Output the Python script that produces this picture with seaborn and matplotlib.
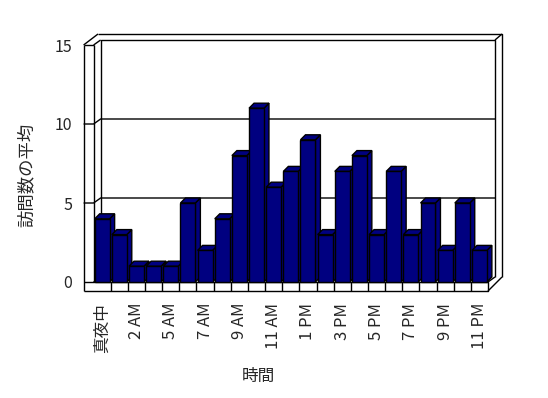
import matplotlib
matplotlib.use("Agg")
import matplotlib.pyplot as plt
from matplotlib.patches import Polygon
import seaborn as sns

# === Datos: visitas promedio por hora ===
horas = ["真夜中", "1 AM", "2 AM", "3 AM", "5 AM", "6 AM", "7 AM", "8 AM",
         "9 AM", "10 AM", "11 AM", "12 PM", "1 PM", "2 PM", "3 PM", "4 PM",
         "5 PM", "6 PM", "7 PM", "8 PM", "9 PM", "10 PM", "11 PM"]
visitas = [4, 3, 1, 1, 1, 5, 2, 4, 8, 11, 6, 7, 9, 3, 7, 8, 3, 7, 3, 5, 2, 5, 2]
y_ticks = [0, 5, 10, 15]

color_barra = "#000080"

sns.set_style("white")
plt.rcParams["font.family"] = ["Noto Sans CJK JP", "DejaVu Sans"]

W_PX, H_PX = 548, 398
fig = plt.figure(figsize=(W_PX / 100, H_PX / 100), dpi=100)
left, right, top, bottom = 93.6, 488.0, 45.0, 282.0
ax = fig.add_axes([left / W_PX, 1 - bottom / H_PX,
                   (right - left) / W_PX, (bottom - top) / H_PX])

n = len(horas)
X0, X1 = -0.5, n - 0.5
Y0, Y1 = 0, 15
ux = (right - left) / n      # px por categoría
uy = (bottom - top) / Y1     # px por unidad


def px(xc, yv, ox=0, oy=0):
    return (xc + ox / ux, yv + oy / uy)


def linea(*pts):
    xs = [p[0] for p in pts]
    ys = [p[1] for p in pts]
    ax.plot(xs, ys, color="black", lw=1, clip_on=False, zorder=1,
            solid_capstyle="butt")


# === Barras ===
sns.barplot(x=horas, y=visitas, order=horas, color=color_barra,
            saturation=1, edgecolor="black", linewidth=1, width=0.87, ax=ax)

bx, by = 5 / ux, 5 / uy
for i, p in enumerate(list(ax.patches)):
    x0, w, h = p.get_x(), p.get_width(), p.get_height()
    base = 3 + i * 3
    lado = Polygon([(x0 + w, 0), (x0 + w + bx, by), (x0 + w + bx, h + by), (x0 + w, h)],
                   closed=True, facecolor=color_barra, edgecolor="black", lw=1,
                   zorder=base, clip_on=False)
    tapa = Polygon([(x0, h), (x0 + w, h), (x0 + w + bx, h + by), (x0 + bx, h + by)],
                   closed=True, facecolor=color_barra, edgecolor="black", lw=1,
                   zorder=base + 1, clip_on=False)
    ax.add_patch(lado)
    ax.add_patch(tapa)
    p.set_zorder(base + 2)
    p.set_clip_on(False)

# === Paredes 3D ===
DXW, DYW = 7, 5      # profundidad del suelo / pared
TS, TF = 10, 9       # grosor pared lateral / suelo

# pared del fondo (interior)
linea(px(X0, Y0, DXW, DYW), px(X0, Y1, DXW, DYW), px(X1, Y1, DXW, DYW), px(X1, Y0, DXW, DYW))
# borde exterior de la pared del fondo
linea(px(X0, Y1, 4.4, 11), px(X1, Y1, 14, 11), px(X1, Y0, 14, 5))
linea(px(X1, Y1, DXW, DYW), px(X1, Y1, 14, 11))
# pared lateral
linea(px(X0, Y1, -TS, 0), px(X0, Y0, -TS, -TF))
linea(px(X0, Y1), px(X0, Y0))
linea(px(X0, Y1, -TS, 0), px(X0, Y1))
linea(px(X0, Y1, -TS, 0), px(X0, Y1, 4.4, 11))
linea(px(X0, Y1), px(X0, Y1, DXW, DYW))
# suelo
linea(px(X0, Y0, -TS, 0), px(X1, Y0), px(X1, Y0, 0, -TF), px(X0, Y0, -TS, -TF))
linea(px(X1, Y0, 0, -TF), px(X1, Y0, 14, 5))
linea(px(X1, Y0), px(X1, Y0, DXW, DYW))
linea(px(X0, Y0), px(X0, Y0, DXW, DYW))
for k in range(1, n):
    linea(px(X0 + k, Y0), px(X0 + k, Y0, 0, -TF))
# líneas de cuadrícula
for v in y_ticks[1:-1]:
    linea(px(X0, v, -TS, 0), px(X0, v), px(X0, v, DXW, DYW), px(X1, v, DXW, DYW))

# === Ejes ===
ax.set_xlim(X0, X1)
ax.set_ylim(Y0, Y1)
ax.set_yticks(y_ticks)
ax.set_yticklabels([str(v) for v in y_ticks], fontsize=11.5)
ax.set_xticks(range(n))
ax.set_xticklabels([h if i % 2 == 0 else "" for i, h in enumerate(horas)],
                   rotation=90, fontsize=12)
ax.tick_params(axis="y", length=0, pad=15.5)
ax.tick_params(axis="x", length=0, pad=15)
for s in ax.spines.values():
    s.set_visible(False)
ax.patch.set_visible(False)

ax.set_ylabel("訪問数の平均", fontsize=12.5)
ax.yaxis.set_label_coords(-0.148, 0.451)
ax.set_xlabel("時間", fontsize=12)
ax.xaxis.set_label_coords(0.419, -0.363)

fig.savefig("out.png", dpi=100)
